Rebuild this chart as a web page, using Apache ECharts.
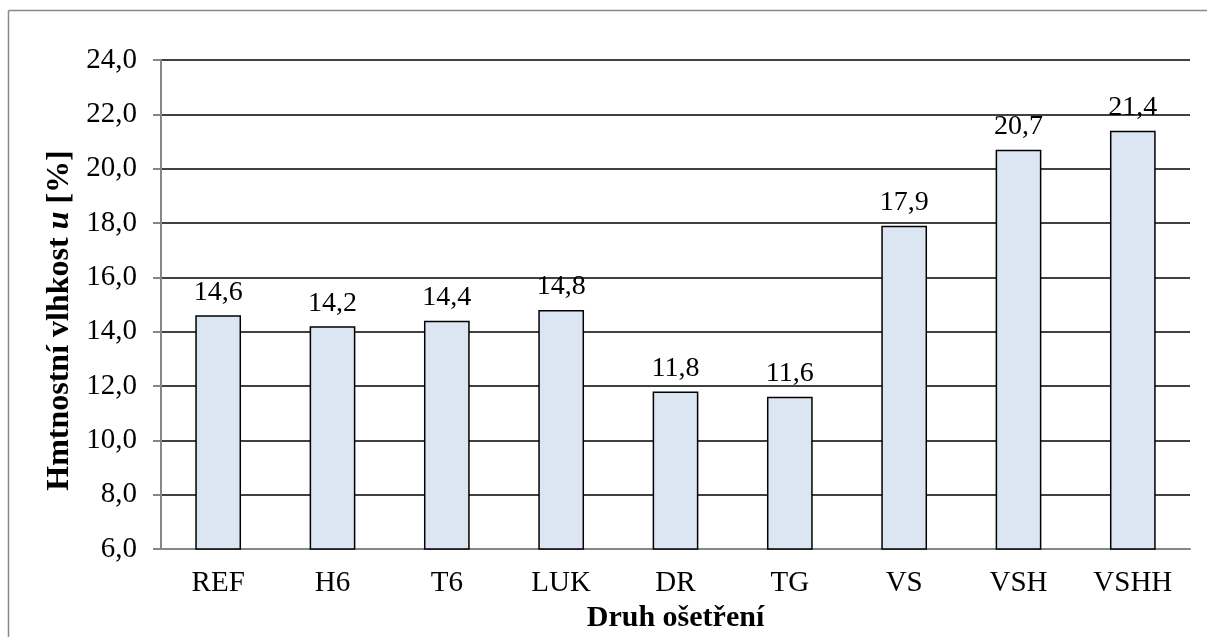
<!DOCTYPE html>
<html>
<head>
<meta charset="utf-8">
<script src="https://cdn.jsdelivr.net/npm/echarts@6/dist/echarts.min.js"></script>
<style>
html,body{margin:0;padding:0;background:#fff;overflow:hidden;}
#c{width:1207px;height:637px;}
</style>
</head>
<body>
<div id="c"></div>
<script>
const categories = ['REF','H6','T6','LUK','DR','TG','VS','VSH','VSHH'];
const values = [14.6, 14.2, 14.4, 14.8, 11.8, 11.6, 17.9, 20.7, 21.4];
const yMin = 6, yMax = 24, yInterval = 2;
const FONT = '"Liberation Serif", "Times New Roman", serif';
const fmt = v => Number(v).toFixed(1).replace('.', ',');

const chart = echarts.init(document.getElementById('c'), null, {renderer:'canvas'});
chart.setOption({
  animation: false,
  backgroundColor: '#fff',
  graphic: [
    {type: 'line', shape: {x1: 8.5, y1: 10.5, x2: 1230, y2: 10.5}, style: {stroke: '#888888', lineWidth: 1.5}, silent: true},
    {type: 'line', shape: {x1: 8.5, y1: 10.5, x2: 8.5, y2: 660}, style: {stroke: '#888888', lineWidth: 1.5}, silent: true}
  ],
  grid: {left: 161, right: 17, top: 60, bottom: 88, containLabel: false, outerBoundsMode: 'none'},
  xAxis: {
    type: 'category',
    data: categories,
    name: 'Druh ošetření',
    nameLocation: 'middle',
    nameGap: 52,
    nameTextStyle: {fontFamily: FONT, fontSize: 30, fontWeight: 'bold', color: '#000'},
    axisLine: {lineStyle: {color: '#868686', width: 2}},
    axisTick: {show: false},
    axisLabel: {fontFamily: FONT, fontSize: 29, color: '#000', margin: 20}
  },
  yAxis: {
    type: 'value',
    min: yMin, max: yMax, interval: yInterval,
    name: '{b|Hmtnostní vlhkost }{i|u}{b| [%]}',
    nameLocation: 'middle',
    nameGap: 76,
    nameTextStyle: {
      fontFamily: FONT, fontSize: 32, color: '#000',
      padding: [0, 32, 0, 0],
      rich: {
        b: {fontFamily: FONT, fontSize: 32, fontWeight: 'bold', color: '#000'},
        i: {fontFamily: FONT, fontSize: 32, fontWeight: 'bold', fontStyle: 'italic', color: '#000'}
      }
    },
    axisLine: {show: true, lineStyle: {color: '#868686', width: 2}},
    axisTick: {show: true, length: 8, lineStyle: {color: '#868686', width: 2}},
    splitLine: {show: true, lineStyle: {color: '#000', width: 1.5}},
    axisLabel: {fontFamily: FONT, fontSize: 29, color: '#000', margin: 24, formatter: v => fmt(v)}
  },
  series: [{
    type: 'bar',
    data: values,
    barWidth: '40%',
    itemStyle: {color: '#dce6f2', borderColor: '#000', borderWidth: 1.5},
    label: {
      show: true, position: 'top', distance: 9,
      fontFamily: FONT, fontSize: 28, color: '#000',
      formatter: p => fmt(p.value)
    }
  }]
});
</script>
</body>
</html>
